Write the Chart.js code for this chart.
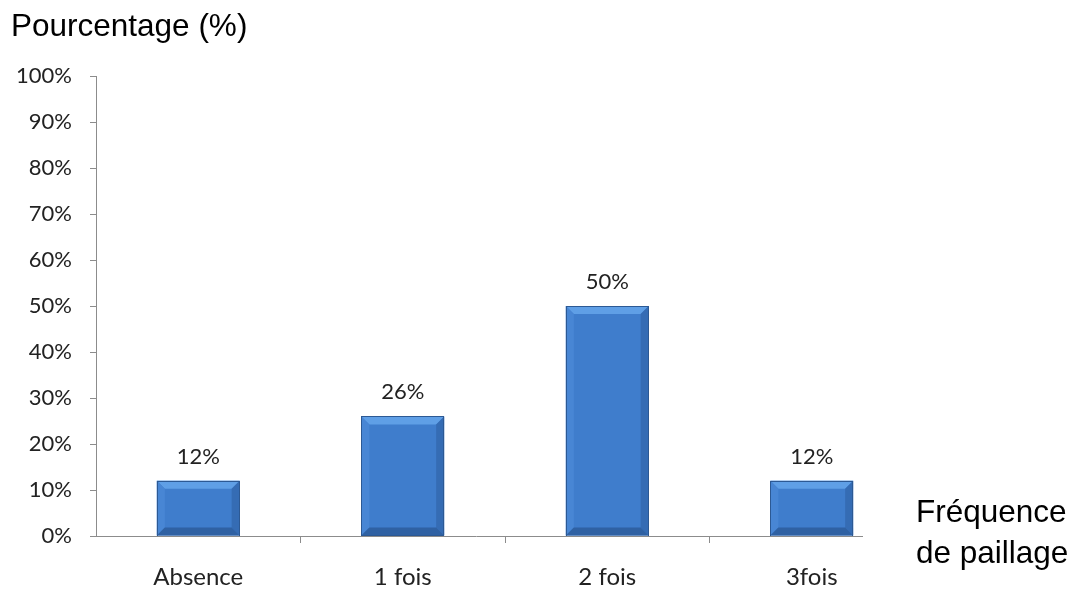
<!DOCTYPE html>
<html>
<head>
<meta charset="utf-8">
<script src="https://cdn.jsdelivr.net/npm/chart.js@4.4.1/dist/chart.umd.min.js"></script>
<style>
  html, body { margin: 0; padding: 0; background: #fff; }
  #wrap { width: 1085px; height: 591px; position: relative; }
</style>
</head>
<body>
<div id="wrap"><canvas id="chart" width="1085" height="591"></canvas></div>
<script>
// fréquence de paillage
const categories = ['Absence', '1 fois', '2 fois', '3fois'];
const pourcentages = [12, 26, 50, 12];
const yTicks = [0, 10, 20, 30, 40, 50, 60, 70, 80, 90, 100];

const yTitle = 'Pourcentage (%)';
const xTitle = ['Fréquence', 'de paillage'];

const AXIS = '#8c8c8c';
const LABEL_FAMILY = 'Lato, "Open Sans", sans-serif';

// bevelled "Excel" look on each bar, value label above
const barDeco = {
  id: 'barDeco',
  afterDatasetsDraw(chart) {
    const ctx = chart.ctx;
    const meta = chart.getDatasetMeta(0);
    meta.data.forEach((bar, i) => {
      const l = bar.x - bar.width / 2, r = bar.x + bar.width / 2;
      const t = bar.y, b = bar.base;
      const bv = Math.min(8, (b - t) / 3);
      ctx.save();
      const quad = (pts, col) => {
        ctx.beginPath();
        ctx.moveTo(pts[0][0], pts[0][1]);
        for (let k = 1; k < pts.length; k++) ctx.lineTo(pts[k][0], pts[k][1]);
        ctx.closePath();
        ctx.fillStyle = col;
        ctx.fill();
      };
      quad([[l, t], [r, t], [r - bv, t + bv], [l + bv, t + bv]], '#5f9fe6');
      quad([[l, t], [l + bv, t + bv], [l + bv, b - bv], [l, b]], '#4886d4');
      quad([[r, t], [r, b], [r - bv, b - bv], [r - bv, t + bv]], '#356cb4');
      quad([[l, b], [l + bv, b - bv], [r - bv, b - bv], [r, b]], '#2f61a3');
      ctx.strokeStyle = '#2c5994';
      ctx.lineWidth = 1;
      ctx.strokeRect(Math.round(l) + 0.5, Math.round(t) + 0.5, Math.round(r - l) - 1, Math.round(b - t));

      ctx.fillStyle = '#222';
      ctx.font = '22px ' + LABEL_FAMILY;
      ctx.textAlign = 'center';
      ctx.textBaseline = 'alphabetic';
      ctx.fillText(pourcentages[i] + '%', bar.x, t - 17);
      ctx.restore();
    });
  },
  afterDraw(chart) {
    const ctx = chart.ctx;
    const area = chart.chartArea;
    ctx.save();
    // x axis line stops short of the axis title
    ctx.strokeStyle = AXIS;
    ctx.lineWidth = 1;
    ctx.beginPath();
    ctx.moveTo(area.left - 6, Math.round(area.bottom) + 0.5);
    ctx.lineTo(area.right - 51, Math.round(area.bottom) + 0.5);
    ctx.stroke();

    ctx.fillStyle = '#000';
    ctx.font = '31.5px "Liberation Sans", Arial, sans-serif';
    ctx.textAlign = 'left';
    ctx.textBaseline = 'alphabetic';
    ctx.fillText(yTitle, 11, 36);
    ctx.fillText(xTitle[0], 916, 522);
    ctx.fillText(xTitle[1], 916, 563);
    ctx.restore();
  }
};

new Chart(document.getElementById('chart'), {
  type: 'bar',
  data: {
    labels: categories,
    datasets: [{
      data: pourcentages,
      backgroundColor: '#3f7dcc',
      borderWidth: 0,
      categoryPercentage: 1,
      barPercentage: 0.405
    }]
  },
  options: {
    responsive: false,
    animation: false,
    events: [],
    layout: { padding: { top: 76, right: 171, bottom: 0, left: 0 } },
    plugins: { legend: { display: false }, tooltip: { enabled: false } },
    scales: {
      x: {
        offset: true,
        border: { display: false },
        grid: {
          offset: true,
          drawOnChartArea: false,
          tickLength: 7,
          color: (c) => (c.type !== 'tick' || c.index === 0) ? 'rgba(0,0,0,0)' : AXIS
        },
        ticks: { color: '#222', font: { family: LABEL_FAMILY, size: 24 }, padding: 20 },
        afterFit: (s) => { s.height = 55; }
      },
      y: {
        min: 0,
        max: 100,
        afterBuildTicks: (s) => { s.ticks = yTicks.map(v => ({ value: v })); },
        border: { display: true, color: AXIS },
        grid: { drawOnChartArea: false, tickLength: 6, color: AXIS },
        ticks: {
          color: '#222',
          font: { family: LABEL_FAMILY, size: 22 },
          padding: 18,
          callback: (v) => v + '%'
        },
        afterFit: (s) => { s.width = 96; }
      }
    }
  },
  plugins: [barDeco]
});
</script>
</body>
</html>
